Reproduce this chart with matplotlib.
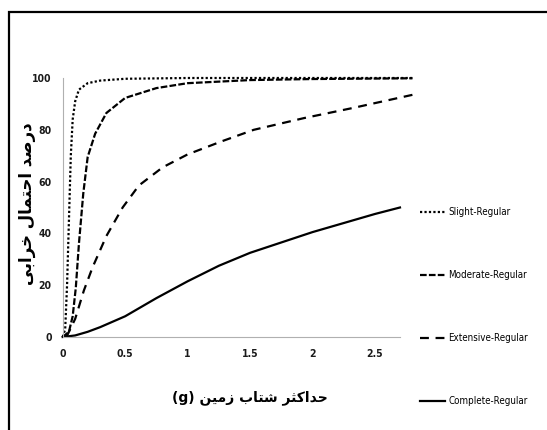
import matplotlib
matplotlib.use("Agg")
import matplotlib.pyplot as plt
from matplotlib.patches import Rectangle

# Slight-Regular (dotted)
slight_x = [0, 0.02, 0.035, 0.05, 0.065, 0.08, 0.1, 0.13, 0.2, 0.3, 0.5, 1.0, 2.8]
slight_y = [0, 3, 20, 45, 70, 84, 91, 95.5, 98, 99, 99.7, 100, 100]

# Moderate-Regular (short dash)
moderate_x = [0, 0.05, 0.08, 0.105, 0.13, 0.165, 0.2, 0.26, 0.35, 0.5, 0.75, 1.0, 1.5, 2.0, 2.8]
moderate_y = [0, 2, 8, 19, 36, 55.5, 69.5, 78.5, 86.5, 92.3, 96.1, 98, 99.2, 99.6, 99.9]

# Extensive-Regular (long dash)
extensive_x = [0.03, 0.1, 0.17, 0.24, 0.35, 0.48, 0.61, 0.8, 1.0, 1.27, 1.53, 1.93, 2.33, 2.8]
extensive_y = [0, 7, 18, 27, 39, 50, 58.5, 65.5, 70.5, 75.5, 80, 84.5, 88.5, 93.5]

# Complete-Regular (solid)
complete_x = [0, 0.1, 0.2, 0.3, 0.5, 0.75, 1.0, 1.25, 1.5, 1.75, 2.0, 2.25, 2.5, 2.7]
complete_y = [0, 0.6, 2, 3.8, 8, 15, 21.5, 27.5, 32.5, 36.5, 40.5, 44, 47.5, 50]

x_ticks = [0, 0.5, 1, 1.5, 2, 2.5]
x_tick_labels = ["0", "0.5", "1", "1.5", "2", "2.5"]
y_ticks = [0, 20, 40, 60, 80, 100]

# Persian labels, pre-shaped (presentation forms, visual order)
# "حداکثر شتاب زمین (g)"
x_label = "(g) \uFEE6\uFBFF\uFEE3\uFEAF \uFE8F\uFE8E\uFE98\uFEB7 \uFEAE\uFE9C\uFB90\uFE8D\uFEAA\uFEA3"
# "درصد احتمال خرابی"
y_label = "\uFBFD\uFE91\uFE8D\uFEAE\uFEA7 \uFEDD\uFE8E\uFEE4\uFE98\uFEA3\uFE8D \uFEAA\uFEBB\uFEAD\uFEA9"

LW = 1.6

fig = plt.figure(figsize=(5.47, 4.30), dpi=100)
ax = fig.add_axes([0.1146, 0.2163, 0.6166, 0.6023])

ax.plot(slight_x, slight_y, color="black", lw=LW, dashes=(1, 1),
        label="Slight-Regular", clip_on=False)
ax.plot(moderate_x, moderate_y, color="black", lw=LW, dashes=(3, 1),
        label="Moderate-Regular", clip_on=False)
ax.plot(extensive_x, extensive_y, color="black", lw=LW, dashes=(4, 3),
        label="Extensive-Regular", clip_on=False)
ax.plot(complete_x, complete_y, color="black", lw=LW,
        label="Complete-Regular", clip_on=False)

ax.set_xlim(0, 2.7)
ax.set_ylim(0, 100)
ax.set_xticks(x_ticks)
ax.set_xticklabels(x_tick_labels)
ax.set_yticks(y_ticks)
ax.tick_params(length=0, labelsize=7.5, colors="#1a1a1a")
ax.tick_params(axis="x", pad=9)
ax.tick_params(axis="y", pad=8)
for lbl in ax.get_xticklabels() + ax.get_yticklabels():
    lbl.set_fontstretch("condensed")
    lbl.set_fontweight("bold")

for side in ["top", "right"]:
    ax.spines[side].set_visible(False)
for side in ["left", "bottom"]:
    ax.spines[side].set_color("#b0b0b0")
    ax.spines[side].set_linewidth(0.8)

fig.text(250 / 547, 1 - 398 / 430, x_label, ha="center", va="center",
         fontsize=10, fontweight="bold", family="DejaVu Sans")
fig.text(27 / 547, 1 - 204 / 430, y_label, ha="center", va="center",
         rotation=90, fontsize=12, fontweight="bold", family="DejaVu Sans")

leg = ax.legend(loc="upper left", bbox_to_anchor=(420 / 547, 1 - 207 / 430),
                bbox_transform=fig.transFigure, frameon=False,
                prop={"size": 7, "stretch": "condensed"},
                handlelength=2.6, handletextpad=0.3, labelspacing=5.45,
                borderpad=0, borderaxespad=0)

# outer frame
fig.patches.append(Rectangle((9 / 547, -0.05), 1.0, 1 - 12 / 430 + 0.05,
                             transform=fig.transFigure, fill=False,
                             edgecolor="black", lw=1.6))

fig.savefig("out.png", dpi=100)
